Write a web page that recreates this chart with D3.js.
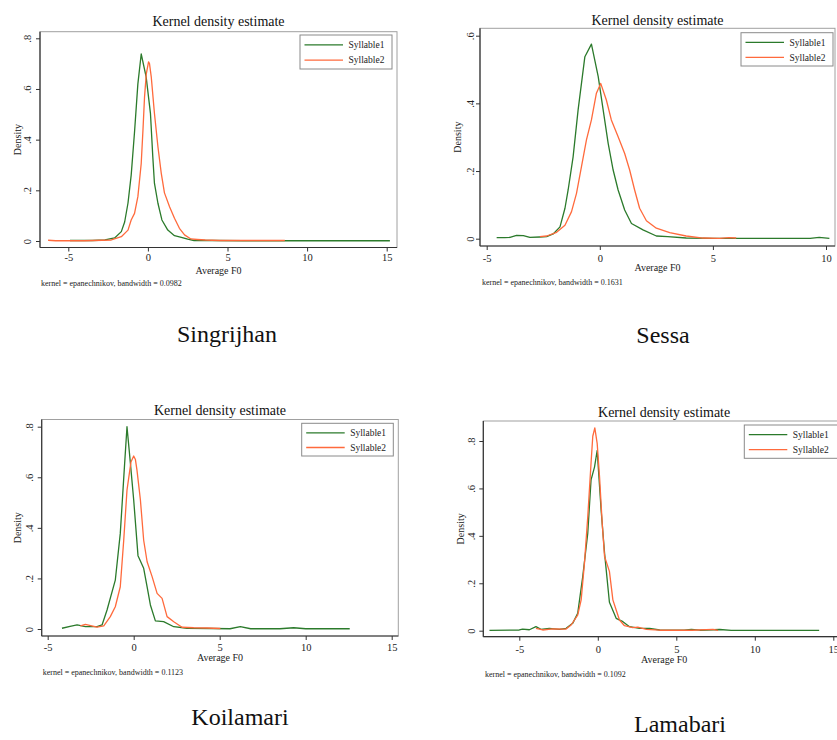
<!DOCTYPE html>
<html><head><meta charset="utf-8">
<script src="https://cdn.jsdelivr.net/npm/d3@7"></script>
<style>body{margin:0;background:#fff} svg{display:block}</style>
</head><body><svg id="c" width="837" height="740"></svg>
<script>
// ---------- data ----------
const regions = ["Singrijhan", "Sessa", "Koilamari", "Lamabari"];
const seriesNames = ["Syllable1", "Syllable2"];
const bandwidths = ["0.0982", "0.1631", "0.1123", "0.1092"];
const xTicksWide = [-5, 0, 5, 10, 15];
const xTicksNarrow = [-5, 0, 5, 10];
const yTicks08 = [0, 0.2, 0.4, 0.6, 0.8];
const yTicks06 = [0, 0.2, 0.4, 0.6];
const yTickLabels = ["0", ".2", ".4", ".6", ".8"];

const singrijhanS1 = [[-4.9,0.002],[-3.5,0.002],[-2.7,0.004],[-2.09,0.012],[-1.67,0.037],[-1.46,0.075],[-1.25,0.15],[-1.05,0.26],[-0.84,0.43],[-0.63,0.62],[-0.42,0.738],[-0.11,0.648],[0.16,0.504],[0.31,0.33],[0.41,0.228],[0.63,0.149],[0.88,0.083],[1.25,0.043],[1.67,0.021],[2.1,0.014],[2.5,0.007],[2.9,0.002],[4,0.002],[6,0.001],[8.6,0.001],[10,0.001],[15.2,0.001]];
const singrijhanS2 = [[-6.27,0.003],[-5.8,0.001],[-4,0.001],[-2.3,0.004],[-1.67,0.017],[-1.25,0.043],[-1.05,0.083],[-0.84,0.109],[-0.63,0.175],[-0.42,0.306],[-0.31,0.438],[-0.21,0.57],[-0.1,0.66],[0.04,0.707],[0.1,0.7],[0.21,0.648],[0.41,0.504],[0.63,0.372],[0.84,0.267],[1.04,0.19],[1.36,0.135],[1.67,0.09],[1.98,0.05],[2.3,0.024],[2.7,0.008],[3.1,0.006],[3.6,0.004],[4.5,0.002],[6,0.002],[8.6,0.002]];

const sessaS1 = [[-4.56,0.003],[-4.2,0.003],[-3.97,0.004],[-3.68,0.01],[-3.38,0.009],[-3.09,0.004],[-2.65,0.005],[-2.35,0.006],[-2.06,0.014],[-1.76,0.035],[-1.54,0.09],[-1.4,0.144],[-1.18,0.242],[-0.96,0.38],[-0.66,0.538],[-0.37,0.575],[-0.07,0.479],[0.15,0.38],[0.37,0.282],[0.59,0.203],[0.81,0.144],[1.1,0.085],[1.4,0.045],[1.91,0.026],[2.5,0.008],[3.0,0.006],[3.82,0.002],[5,0.001],[7,0.001],[9.3,0.001],[9.7,0.004],[10.15,0.001]];
const sessaS2 = [[-2.65,0.006],[-2.35,0.008],[-1.91,0.019],[-1.54,0.04],[-1.25,0.08],[-1.03,0.134],[-0.81,0.213],[-0.59,0.292],[-0.37,0.351],[-0.15,0.43],[0.04,0.459],[0.29,0.41],[0.51,0.351],[0.81,0.301],[1.1,0.252],[1.32,0.203],[1.54,0.144],[1.76,0.09],[2.06,0.053],[2.5,0.031],[3.09,0.018],[3.82,0.008],[4.56,0.002],[5.3,0.001],[5.7,0.003],[6.03,0.002]];

const koilamariS1 = [[-4.17,0.003],[-3.7,0.01],[-3.29,0.016],[-2.81,0.009],[-2.13,0.009],[-1.84,0.016],[-1.55,0.075],[-1.07,0.193],[-0.78,0.378],[-0.54,0.64],[-0.39,0.8],[-0.19,0.654],[0,0.51],[0.25,0.29],[0.58,0.24],[0.78,0.167],[0.97,0.095],[1.26,0.032],[1.74,0.029],[2.33,0.009],[3.1,0.003],[4.5,0.002],[5.6,0.001],[6.2,0.009],[6.8,0.001],[8.5,0.001],[9.3,0.005],[10,0.001],[12.56,0.001]];
const koilamariS2 = [[-3.1,0.012],[-2.81,0.018],[-2.13,0.007],[-1.74,0.012],[-1.36,0.049],[-1.07,0.088],[-0.78,0.167],[-0.58,0.351],[-0.39,0.549],[-0.16,0.66],[0,0.684],[0.1,0.67],[0.19,0.628],[0.39,0.51],[0.58,0.351],[0.78,0.266],[1.07,0.207],[1.36,0.141],[1.65,0.121],[1.94,0.049],[2.33,0.029],[2.81,0.007],[3.49,0.005],[4.26,0.004],[5.04,0.002]];

const lamabariS1 = [[-6.9,0.001],[-5,0.003],[-4.79,0.007],[-4.36,0.004],[-3.94,0.017],[-3.62,0.006],[-3.09,0.01],[-2.45,0.006],[-2.02,0.01],[-1.6,0.031],[-1.28,0.073],[-0.96,0.228],[-0.64,0.41],[-0.43,0.636],[-0.21,0.69],[-0.04,0.76],[0.21,0.51],[0.43,0.327],[0.74,0.12],[1.17,0.052],[1.6,0.038],[2.02,0.017],[2.66,0.01],[3.3,0.01],[3.94,0.003],[5.5,0.002],[5.96,0.006],[6.5,0.002],[7.77,0.005],[8.5,0.001],[14.1,0.001]];
const lamabariS2 = [[-3.94,0.01],[-3.51,0.003],[-2.87,0.008],[-2.02,0.007],[-1.7,0.024],[-1.28,0.066],[-1.06,0.13],[-0.85,0.285],[-0.64,0.48],[-0.43,0.707],[-0.32,0.82],[-0.19,0.855],[-0.04,0.79],[0.11,0.65],[0.28,0.453],[0.43,0.313],[0.57,0.285],[0.74,0.25],[0.96,0.13],[1.17,0.087],[1.38,0.045],[1.7,0.021],[2.23,0.013],[2.55,0.015],[3.09,0.006],[3.94,0.002],[6,0.002],[7.34,0.006],[7.66,0.001]];

// ---------- layout (pixels only) ----------
const layout = [
  {frame:[40,31.7,397,247.5], xr:[68.3,386.7], yr:[241,38.3], titleY:26, legend:[300,35,92,34], ylab:9.5, densX:20.5, tickY:261, avgY:273.5, noteX:41, noteY:286, cap:[227,342]},
  {frame:[480,28.3,835,246], xr:[486.7,826], yr:[238.7,35.7], titleY:25, legend:[741,32.7,92,33.3], ylab:6.5, densX:461, tickY:262, avgY:270.5, noteX:482, noteY:284.5, cap:[663,343]},
  {frame:[41.7,419.5,398.3,636], xr:[47.7,391.7], yr:[629,426.7], titleY:415, legend:[301.7,423.3,91.6,32.7], ylab:9, densX:20.5, tickY:651, avgY:661, noteX:42.7, noteY:674.5, cap:[240,725]},
  {frame:[483.3,421,845,636.7], xr:[519.3,833.3], yr:[630.7,441], titleY:416.5, legend:[744.3,425,100,33.3], ylab:8.5, densX:463.5, tickY:653, avgY:663, noteX:485, noteY:676.5, cap:[680,732]}
];

const panelData = [
  {s: [singrijhanS1, singrijhanS2], xt: xTicksWide, yt: yTicks08},
  {s: [sessaS1, sessaS2], xt: xTicksNarrow, yt: yTicks06},
  {s: [koilamariS1, koilamariS2], xt: xTicksWide, yt: yTicks08},
  {s: [lamabariS1, lamabariS2], xt: xTicksWide, yt: yTicks08}
];

const colors = ["#2b7a2b", "#ff6a3c"];
const FONT = "'Liberation Serif','Times New Roman',serif";

const svg = d3.select("#c");

panelData.forEach((pd, i) => {
  const L = layout[i];
  const [fl, ft, fr, fb] = L.frame;
  const xt = pd.xt, yt = pd.yt;
  const x = d3.scaleLinear().domain([xt[0], xt[xt.length-1]]).range(L.xr);
  const y = d3.scaleLinear().domain([yt[0], yt[yt.length-1]]).range(L.yr);
  const g = svg.append("g").attr("font-family", FONT);

  // plot region outline
  g.append("rect").attr("x", fl).attr("y", ft).attr("width", fr - fl).attr("height", fb - ft)
    .attr("fill", "none").attr("stroke", "#a0a0a0").attr("stroke-width", 1);

  // x axis
  const xa = g.append("g").attr("transform", `translate(0,${fb})`)
    .call(d3.axisBottom(x).tickValues(xt).tickSize(4).tickPadding(3).tickFormat(d => d3.format("d")(d).replace("−","-")));
  xa.select(".domain").remove();
  xa.selectAll("line").attr("stroke", "#333");
  xa.selectAll("text").attr("font-size", 10.5).attr("fill", "#222").attr("font-family", FONT)
    .attr("y", L.tickY - fb).attr("dy", 0);
  g.append("line").attr("x1", fl).attr("x2", fr).attr("y1", fb).attr("y2", fb).attr("stroke", "#333").attr("stroke-width", 1.2);

  // y axis
  const ya = g.append("g").attr("transform", `translate(${fl},0)`)
    .call(d3.axisLeft(y).tickValues(yt).tickSize(4).tickFormat((d, k) => yTickLabels[k]));
  ya.select(".domain").remove();
  ya.selectAll("line").attr("stroke", "#333");
  ya.selectAll("text").attr("font-size", 10.5).attr("fill", "#222").attr("font-family", FONT)
    .attr("x", null).attr("dy", null).attr("text-anchor", "middle")
    .attr("transform", `translate(${-L.ylab},0) rotate(-90)`);
  g.append("line").attr("x1", fl).attr("x2", fl).attr("y1", ft).attr("y2", fb).attr("stroke", "#333").attr("stroke-width", 1.2);

  // curves
  const line = d3.line().x(d => x(d[0])).y(d => y(d[1]));
  pd.s.forEach((ser, k) => {
    g.append("path").datum(ser).attr("d", line).attr("fill", "none")
      .attr("stroke", colors[k]).attr("stroke-width", 1.3).attr("stroke-linejoin", "round");
  });

  // title
  g.append("text").attr("x", (fl + fr) / 2).attr("y", L.titleY).attr("text-anchor", "middle")
    .attr("font-size", 14).attr("fill", "#111").text("Kernel density estimate");

  // axis titles
  g.append("text").attr("x", (fl + fr) / 2).attr("y", L.avgY).attr("text-anchor", "middle")
    .attr("font-size", 10).attr("fill", "#222").text("Average F0");
  g.append("text").attr("transform", `translate(${L.densX},${(ft + fb) / 2}) rotate(-90)`)
    .attr("text-anchor", "middle").attr("font-size", 10).attr("fill", "#222").text("Density");

  // note
  g.append("text").attr("x", L.noteX).attr("y", L.noteY).attr("font-size", 8).attr("fill", "#222")
    .text(`kernel = epanechnikov, bandwidth = ${bandwidths[i]}`);

  // legend
  const [lx, ly, lw, lh] = L.legend;
  g.append("rect").attr("x", lx).attr("y", ly).attr("width", lw).attr("height", lh)
    .attr("fill", "#fff").attr("stroke", "#8a8a8a").attr("stroke-width", 1);
  seriesNames.forEach((nm, k) => {
    const cy = ly + lh * (k === 0 ? 0.29 : 0.74);
    g.append("line").attr("x1", lx + 4.5).attr("x2", lx + 43).attr("y1", cy).attr("y2", cy)
      .attr("stroke", colors[k]).attr("stroke-width", 1.3);
    g.append("text").attr("x", lx + 48.5).attr("y", cy + 3.3).attr("font-size", 9.5).attr("fill", "#222").text(nm);
  });

  // caption
  svg.append("text").attr("x", L.cap[0]).attr("y", L.cap[1]).attr("text-anchor", "middle")
    .attr("font-family", FONT).attr("font-size", 24).attr("fill", "#111").text(regions[i]);
});
</script></body></html>
